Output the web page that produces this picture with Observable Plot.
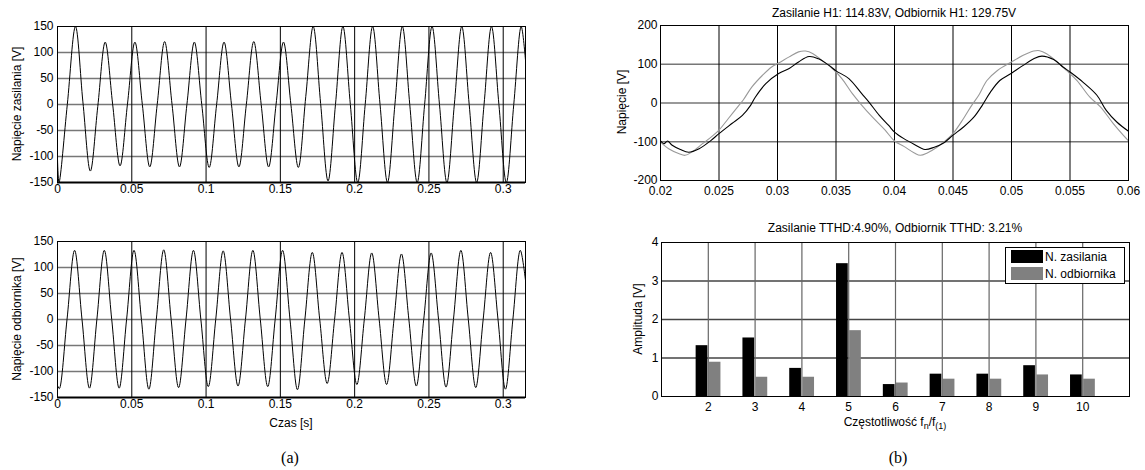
<!DOCTYPE html>
<html><head><meta charset="utf-8">
<script src="https://cdn.jsdelivr.net/npm/d3@7"></script>
<script src="https://cdn.jsdelivr.net/npm/@observablehq/plot@0.6"></script>
<style>
body{margin:0;background:#fff;}
#root{position:relative;width:1145px;height:470px;font-family:"Liberation Sans",Arial,sans-serif;font-size:12px;color:#000;overflow:hidden;}
.p{position:absolute;}
.p svg{overflow:visible;}
.lbl{position:absolute;transform:translate(-50%,-50%);white-space:nowrap;line-height:14px;}
.rot{transform:translate(-50%,-50%) rotate(-90deg);}
.lbl sub{font-size:9px;vertical-align:-3px;line-height:0;}
.cap{font-family:"Liberation Serif","Times New Roman",serif;font-size:16px;line-height:18px;}
#legend{position:absolute;left:1005px;top:247px;width:118px;height:35px;border:1px solid #000;background:#fff;}
#legend .sw{position:absolute;left:5px;width:32px;height:13px;}
#legend .tx{position:absolute;left:39px;line-height:14px;white-space:nowrap;}
</style></head>
<body>
<div id="root">
  <div class="p" id="p1" style="left:0;top:0"></div>
  <div class="p" id="p2" style="left:0;top:215px"></div>
  <div class="p" id="p3" style="left:570px;top:0"></div>
  <div class="p" id="p4" style="left:570px;top:215px"></div>
  <div class="lbl rot" id="ylab1" style="left:17px;top:104px"></div>
  <div class="lbl rot" id="ylab2" style="left:17px;top:319px"></div>
  <div class="lbl" id="xlab2" style="left:291px;top:423px"></div>
  <div class="lbl" id="title3" style="left:894px;top:13px"></div>
  <div class="lbl rot" id="ylab3" style="left:622px;top:102px"></div>
  <div class="lbl" id="title4" style="left:895px;top:228px"></div>
  <div class="lbl rot" id="ylab4" style="left:638px;top:319px"></div>
  <div class="lbl" id="xlab4" style="left:895px;top:422px">Częstotliwość f<sub>n</sub>/f<sub>(1)</sub></div>
  <div id="legend">
    <div class="sw" style="top:2px;background:#000"></div><div class="tx" id="leg1" style="top:2px"></div>
    <div class="sw" style="top:19px;background:#808080"></div><div class="tx" id="leg2" style="top:19px"></div>
  </div>
  <div class="lbl cap" style="left:290px;top:458px">(a)</div>
  <div class="lbl cap" style="left:898px;top:458px">(b)</div>
</div>
<script>
// ---- data: left panels (time [s], voltage [V]) ----
const supplyT = [0, 0.0010, 0.0066,
  0.0121, 0.0171, 0.0221, 0.0271, 0.0321, 0.0371, 0.0421, 0.0471, 0.0521, 0.0571, 0.0621, 0.0671,
  0.0721, 0.0771, 0.0821, 0.0871, 0.0921, 0.0971, 0.1021, 0.1071, 0.1121, 0.1171, 0.1221, 0.1271,
  0.1321, 0.1371, 0.1421, 0.1471, 0.1521, 0.1571, 0.1621, 0.1671, 0.1721, 0.1771, 0.1821, 0.1871,
  0.1921, 0.1971, 0.2021, 0.2071, 0.2121, 0.2171, 0.2221, 0.2271, 0.2321, 0.2371, 0.2421, 0.2471,
  0.2521, 0.2571, 0.2621, 0.2671, 0.2721, 0.2771, 0.2821, 0.2871, 0.2921, 0.2971, 0.3021, 0.3071,
  0.3121, 0.315];
const supplyV = [-105, -150, 0,
  150, 5, -128, -4, 120, 1, -118, 1, 120, 0, -120, 0,
  121, 0, -120, 0, 120, 0, -121, 0, 120, 0, -120, 0,
  121, 0, -120, 0, 120, 0, -121, 15, 150, 2, -147, 0,
  150, 0, -150, 0, 150, 0, -150, 0, 150, 0, -150, 0,
  150, 0, -150, 0, 150, 0, -150, 0, 150, 0, -150, 0,
  150, 85];
const loadT = [0, 0.0012, 0.0064,
  0.0115, 0.0165, 0.0215, 0.0265, 0.0315, 0.0365, 0.0415, 0.0465, 0.0515, 0.0565, 0.0615, 0.0665,
  0.0715, 0.0765, 0.0815, 0.0865, 0.0915, 0.0965, 0.1015, 0.1065, 0.1115, 0.1165, 0.1215, 0.1265,
  0.1315, 0.1365, 0.1415, 0.1465, 0.1515, 0.1565, 0.1615, 0.1665, 0.1715, 0.1765, 0.1815, 0.1865,
  0.1915, 0.1965, 0.2015, 0.2065, 0.2115, 0.2165, 0.2215, 0.2265, 0.2315, 0.2365, 0.2415, 0.2465,
  0.2515, 0.2565, 0.2615, 0.2665, 0.2715, 0.2765, 0.2815, 0.2865, 0.2915, 0.2965, 0.3015, 0.3065,
  0.3115, 0.315];
const loadV = [-127, -133, 0,
  133, 0, -132, 0, 133, 0, -132, 0, 133, 0, -134, 0,
  134, 0, -131, 0, 133, 0, -129, 0, 132, 0, -128, 0,
  133, 0, -129, 0, 133, 0, -135, 0, 129, 0, -123, 0,
  129, 0, -125, 0, 128, 0, -125, 0, 126, 0, -128, 0,
  128, 0, -130, 0, 133, 0, -131, 0, 129, 0, -134, 0,
  133, 75];

// ---- data: right top (zoomed waveforms) ----
const zSupplyT = [0.0200, 0.0203, 0.0206, 0.0210, 0.0217, 0.0224, 0.0233, 0.0243, 0.0250, 0.0261,
  0.0270, 0.0277, 0.0281, 0.0290, 0.0301, 0.0310, 0.0318, 0.0327, 0.0335, 0.0344,
  0.0350, 0.0361, 0.0372, 0.0378, 0.0387, 0.0395, 0.0400, 0.0408, 0.0417, 0.0426,
  0.0434, 0.0442, 0.0450, 0.0459, 0.0468, 0.0475, 0.0482, 0.0490, 0.0500, 0.0510,
  0.0519, 0.0526, 0.0536, 0.0544, 0.0550, 0.0561, 0.0573, 0.0581, 0.0590, 0.0600];
const zSupplyV = [-98, -105, -98, -109, -120, -127, -118, -97, -79, -53,
  -32, -6, 15, 50, 76, 89, 106, 120, 114, 97,
  83, 63, 24, 3, -32, -58, -75, -92, -107, -120,
  -114, -103, -83, -62, -36, -6, 28, 58, 77, 97,
  114, 121, 112, 93, 80, 54, 20, -19, -49, -73];
const zLoadT = [0.0200, 0.0207, 0.0216, 0.0221, 0.0227, 0.0236, 0.0244, 0.0250, 0.0258, 0.0267,
  0.0271, 0.0278, 0.0287, 0.0295, 0.0301, 0.0310, 0.0318, 0.0324, 0.0330, 0.0338,
  0.0347, 0.0355, 0.0364, 0.0371, 0.0381, 0.0392, 0.0400, 0.0408, 0.0417, 0.0422,
  0.0428, 0.0436, 0.0442, 0.0450, 0.0459, 0.0466, 0.0472, 0.0479, 0.0488, 0.0500,
  0.0510, 0.0519, 0.0524, 0.0530, 0.0539, 0.0547, 0.0556, 0.0567, 0.0576, 0.0587, 0.0600];
const zLoadV = [-101, -118, -131, -135, -126, -105, -86, -70, -40, -6,
  9, 41, 71, 93, 103, 119, 132, 134, 128, 110,
  89, 63, 24, -2, -36, -70, -98, -112, -129, -135,
  -129, -115, -101, -79, -40, -6, 20, 58, 84, 106,
  123, 134, 135, 127, 106, 84, 58, 15, -10, -53, -98];

// ---- data: harmonics ----
const harmonics = [2, 3, 4, 5, 6, 7, 8, 9, 10];
const supplyAmp = [1.32, 1.52, 0.73, 3.45, 0.31, 0.58, 0.58, 0.80, 0.56];
const loadAmp   = [0.89, 0.50, 0.50, 1.71, 0.35, 0.45, 0.45, 0.56, 0.45];
const seriesNames = ["N. zasilania", "N. odbiornika"];

// ---- tick labels / texts ----
const xTicksLeft = [0, 0.05, 0.1, 0.15, 0.2, 0.25, 0.3];
const yTicksLeft = [-150, -100, -50, 0, 50, 100, 150];
const xTicksZoom = [0.02, 0.025, 0.03, 0.035, 0.04, 0.045, 0.05, 0.055, 0.06];
const yTicksZoom = [-200, -100, 0, 100, 200];
const yTicksBar = [0, 1, 2, 3, 4];
const labels = {
  ylab1: "Napięcie zasilania [V]",
  ylab2: "Napięcie odbiornika [V]",
  xlab2: "Czas [s]",
  title3: "Zasilanie H1: 114.83V, Odbiornik H1: 129.75V",
  ylab3: "Napięcie [V]",
  title4: "Zasilanie TTHD:4.90%, Odbiornik TTHD: 3.21%",
  ylab4: "Amplituda [V]"
};
for (const [id, txt] of Object.entries(labels)) document.getElementById(id).textContent = txt;
document.getElementById("leg1").textContent = seriesNames[0];
document.getElementById("leg2").textContent = seriesNames[1];

const fmt = d => String(d);
const font = {fontFamily: '"Liberation Sans", Arial, sans-serif', fontSize: "12px", background: "transparent", color: "#000", overflow: "visible"};
const GRIDH = {stroke: "#777", strokeWidth: 1.6};
const GRIDV = {stroke: "#000", strokeWidth: 1};

function wavePanel(T, V, height, mb) {
  const data = T.map((t, i) => ({t, v: V[i]}));
  return Plot.plot({
    width: 570, height, marginLeft: 57, marginRight: 45, marginTop: 26, marginBottom: mb,
    style: font,
    x: {domain: [0, 0.315], ticks: xTicksLeft, tickFormat: fmt, tickSize: 0, tickPadding: 2, label: null},
    y: {domain: [-150, 150], ticks: yTicksLeft, tickFormat: fmt, tickSize: 0, tickPadding: 4, label: null},
    marks: [
      Plot.ruleY(yTicksLeft.filter(d => d > -150 && d < 150), GRIDH),
      Plot.ruleX(xTicksLeft.filter(d => d > 0), GRIDV),
      Plot.line(data, {x: "t", y: "v", curve: "catmull-rom", stroke: "#000", strokeWidth: 1, clip: true}),
      Plot.frame({stroke: "#000"}),
      Plot.ruleY([-150], {stroke: "#000", strokeWidth: 2})
    ]
  });
}

document.getElementById("p1").appendChild(wavePanel(supplyT, supplyV, 205, 23));
document.getElementById("p2").appendChild(wavePanel(loadT, loadV, 225, 43));

// right top
const zs = zSupplyT.map((t, i) => ({t, v: zSupplyV[i]}));
const zl = zLoadT.map((t, i) => ({t, v: zLoadV[i]}));
document.getElementById("p3").appendChild(Plot.plot({
  width: 575, height: 205, marginLeft: 90, marginRight: 17, marginTop: 25, marginBottom: 25,
  style: font,
  x: {domain: [0.02, 0.06], ticks: xTicksZoom, tickFormat: fmt, tickSize: 0, tickPadding: 6, label: null},
  y: {domain: [-200, 200], ticks: yTicksZoom, tickFormat: fmt, tickSize: 0, tickPadding: 3, label: null},
  marks: [
    Plot.ruleY(yTicksZoom.filter(d => d > -200 && d < 200), GRIDH),
    Plot.ruleX(xTicksZoom.filter(d => d > 0.02 && d < 0.06), GRIDV),
    Plot.line(zl, {x: "t", y: "v", curve: "catmull-rom", stroke: "#999", strokeWidth: 1.1}),
    Plot.line(zs, {x: "t", y: "v", curve: "catmull-rom", stroke: "#000", strokeWidth: 1.1}),
    Plot.frame({stroke: "#000"})
  ]
}));

// right bottom bars
const rows = harmonics.map((n, i) => ({n, s: supplyAmp[i], l: loadAmp[i]}));
document.getElementById("p4").appendChild(Plot.plot({
  width: 575, height: 225, marginLeft: 91, marginRight: 16, marginTop: 27, marginBottom: 44,
  style: font,
  x: {domain: [1, 11], ticks: harmonics, tickFormat: fmt, tickSize: 0, tickPadding: 6, label: null},
  y: {domain: [0, 4], ticks: yTicksBar, tickFormat: fmt, tickSize: 0, tickPadding: 3, label: null},
  marks: [
    Plot.ruleY(yTicksBar.filter(d => d > 0 && d < 4), {stroke: "#444", strokeWidth: 1.4}),
    Plot.ruleX(harmonics, {stroke: "#666", strokeWidth: 1.2}),
    Plot.rect(rows, {x1: d => d.n - 0.26, x2: d => d.n - 0.01, y1: d => 0, y2: "s", fill: "#000"}),
    Plot.rect(rows, {x1: d => d.n + 0.02, x2: d => d.n + 0.27, y1: d => 0, y2: "l", fill: "#808080"}),
    Plot.frame({stroke: "#000"})
  ]
}));
</script>
</body></html>
